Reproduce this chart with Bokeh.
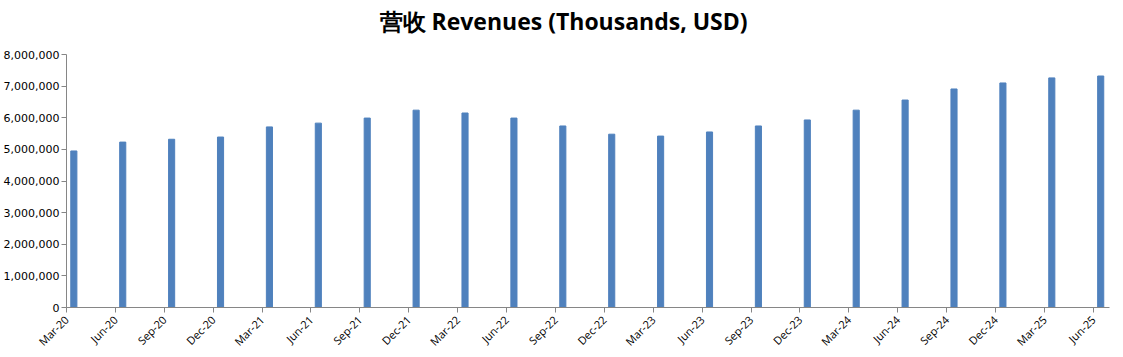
import math
from bokeh.plotting import figure
from bokeh.models import FixedTicker, NumeralTickFormatter, Range1d, ColumnDataSource, Title
from bokeh.embed import file_html
from bokeh.resources import INLINE

title_text = "营收 Revenues (Thousands, USD)"
quarters = ["Mar-20", "Jun-20", "Sep-20", "Dec-20", "Mar-21", "Jun-21", "Sep-21", "Dec-21",
            "Mar-22", "Jun-22", "Sep-22", "Dec-22", "Mar-23", "Jun-23", "Sep-23", "Dec-23",
            "Mar-24", "Jun-24", "Sep-24", "Dec-24", "Mar-25", "Jun-25"]
revenues = [4950000, 5230000, 5320000, 5390000, 5710000, 5830000, 5990000, 6240000,
            6150000, 5990000, 5740000, 5480000, 5420000, 5550000, 5740000, 5930000,
            6240000, 6560000, 6910000, 7100000, 7260000, 7320000]
y_ticks = [0, 1000000, 2000000, 3000000, 4000000, 5000000, 6000000, 7000000, 8000000]

idx = list(range(len(quarters)))
src = ColumnDataSource(dict(x=[i + 0.15 for i in idx], top=revenues))

p = figure(width=1123, height=357, output_backend="svg", toolbar_location=None,
           x_range=Range1d(0, 21.33), y_range=Range1d(0, 8000000),
           min_border_left=66, min_border_right=14, min_border_top=54, min_border_bottom=50)
p.title.text = title_text
p.title.text_font = "Open Sans"
p.title.text_font_style = "bold"
p.title.text_font_size = "23px"
p.title.align = "left"
p.title.offset = 313
p.title.vertical_align = "top"
p.title.standoff = 8
p.title.text_color = "#000000"

# small empty spacer between the frame and the title
p.add_layout(Title(text=" ", text_font_size="1px", standoff=9), "above")

p.vbar(x="x", top="top", width=0.125, source=src, color="#4F81BD")

p.xgrid.visible = False
p.ygrid.visible = False
p.outline_line_color = None

p.xaxis.ticker = FixedTicker(ticks=idx)
p.xaxis.major_label_overrides = {i: q for i, q in zip(idx, quarters)}
p.xaxis.major_label_orientation = math.pi / 4
p.xaxis.major_label_text_font = "Open Sans"
p.xaxis.major_label_text_font_size = "11px"
p.xaxis.major_label_text_color = "#000000"
p.xaxis.minor_tick_line_color = None
p.xaxis.major_tick_out = 5
p.xaxis.major_tick_in = 0
p.xaxis.axis_line_color = "#868686"
p.xaxis.major_tick_line_color = "#868686"

p.yaxis.ticker = FixedTicker(ticks=y_ticks)
p.yaxis.formatter = NumeralTickFormatter(format="0,0")
p.yaxis.major_label_text_font = "DejaVu Sans"
p.yaxis.major_label_text_font_size = "11px"
p.yaxis.major_label_text_color = "#000000"
p.yaxis.minor_tick_line_color = None
p.yaxis.major_tick_out = 5
p.yaxis.major_tick_in = 0
p.yaxis.major_label_standoff = 2
p.yaxis.axis_line_color = "#868686"
p.yaxis.major_tick_line_color = "#868686"

open("out.html", "w").write(file_html(p, INLINE))
